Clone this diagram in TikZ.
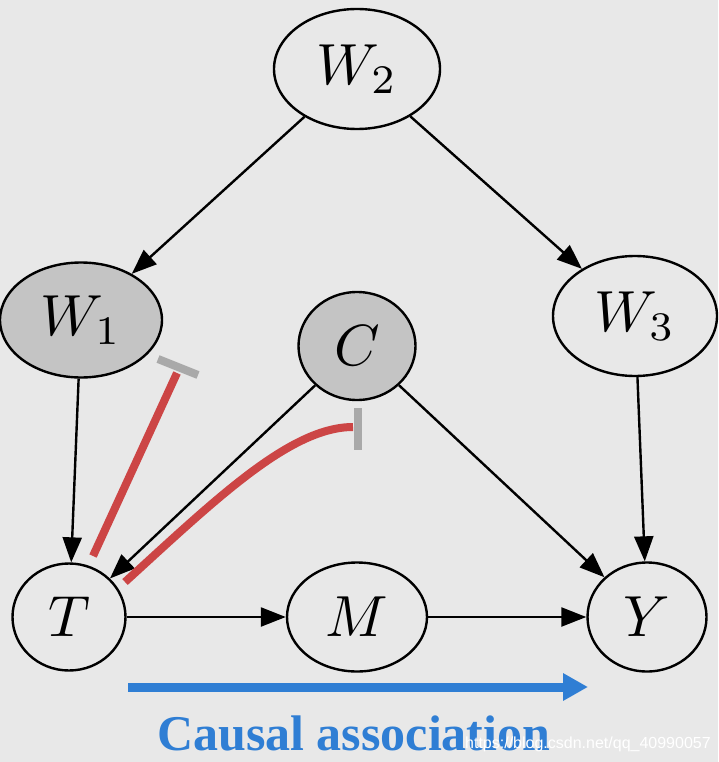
\documentclass[tikz,border=0pt]{standalone}
\usepackage{fontspec}
\newfontfamily\capfont{Liberation Serif}
\newfontfamily\wmfont{Liberation Sans}
\usetikzlibrary{shapes.geometric,arrows.meta}
\definecolor{bg}{HTML}{E8E8E8}
\definecolor{nodegray}{HTML}{C4C4C4}
\definecolor{inhred}{HTML}{CC4545}
\definecolor{bargray}{HTML}{A9A9A9}
\definecolor{causalblue}{HTML}{2F7ED4}
\newcommand\varlbl[1]{\scalebox{5.8}{$#1$}}
\begin{document}
\begin{tikzpicture}[x=1pt,y=-1pt,
  var/.style={ellipse, draw=black, line width=2.4pt, fill=bg, inner sep=0pt},
  observed/.style={var, fill=nodegray},
  edge/.style={line width=2.4pt, -{Triangle[length=25pt,width=19pt]}},
  inhib/.style={draw=inhred, line width=8pt},
  blocker/.style={draw=bargray, line width=8pt},
]
\fill[bg] (0,0) rectangle (718,762);
\useasboundingbox (0,0) rectangle (718,762);

\node[var, minimum width=166pt, minimum height=120pt] (W2) at (357,69) {\varlbl{W_2}};
\node[observed, minimum width=162pt, minimum height=115pt] (W1) at (81,320) {\varlbl{W_1}};
\node[observed, minimum width=117pt, minimum height=108pt] (C) at (357,346) {\varlbl{C}};
\node[var, minimum width=164pt, minimum height=120pt] (W3) at (635,316) {\varlbl{W_3}};
\node[var, minimum width=113pt, minimum height=107pt] (T) at (69,617) {\varlbl{T}};
\node[var, minimum width=140pt, minimum height=109pt] (M) at (357,617) {\varlbl{M}};
\node[var, minimum width=119pt, minimum height=109pt] (Y) at (647,617) {\varlbl{Y}};

\draw[edge] (W2) -- (W1);
\draw[edge] (W2) -- (W3);
\draw[edge] (W1) -- (T);
\draw[edge] (C) -- (T);
\draw[edge] (C) -- (Y);
\draw[edge] (W3) -- (Y);
\draw[edge] (T) -- (M);
\draw[edge] (M) -- (Y);

\coordinate (r1s) at (93,556);
\coordinate (r1e) at (177,373);
\coordinate (b1a) at (158,359);
\coordinate (b1b) at (198,375);
\draw[inhib] (r1s) -- (r1e);
\draw[blocker] (b1a) -- (b1b);

\coordinate (r2s) at (125,582);
\coordinate (r2e) at (353,427);
\coordinate (b2a) at (358,408);
\coordinate (b2b) at (358,450);
\draw[inhib] (r2s) .. controls (215,500) and (290,427) .. (r2e);
\draw[blocker] (b2a) -- (b2b);

\coordinate (ca) at (128,687);
\coordinate (cb) at (588,687);
\draw[causalblue, line width=9pt, -{Triangle[length=25pt,width=26pt]}] (ca) -- (cb);

\node[anchor=base west, text=causalblue, font=\capfont\bfseries\fontsize{50}{60}\selectfont, inner sep=0pt] (cap) at (157,750) {Causal association};
\node[anchor=base west, text=white, font=\wmfont\fontsize{16}{19}\selectfont, inner sep=0pt] (wm) at (465,748) {https://blog.csdn.net/qq\_40990057};
\end{tikzpicture}
\end{document}
